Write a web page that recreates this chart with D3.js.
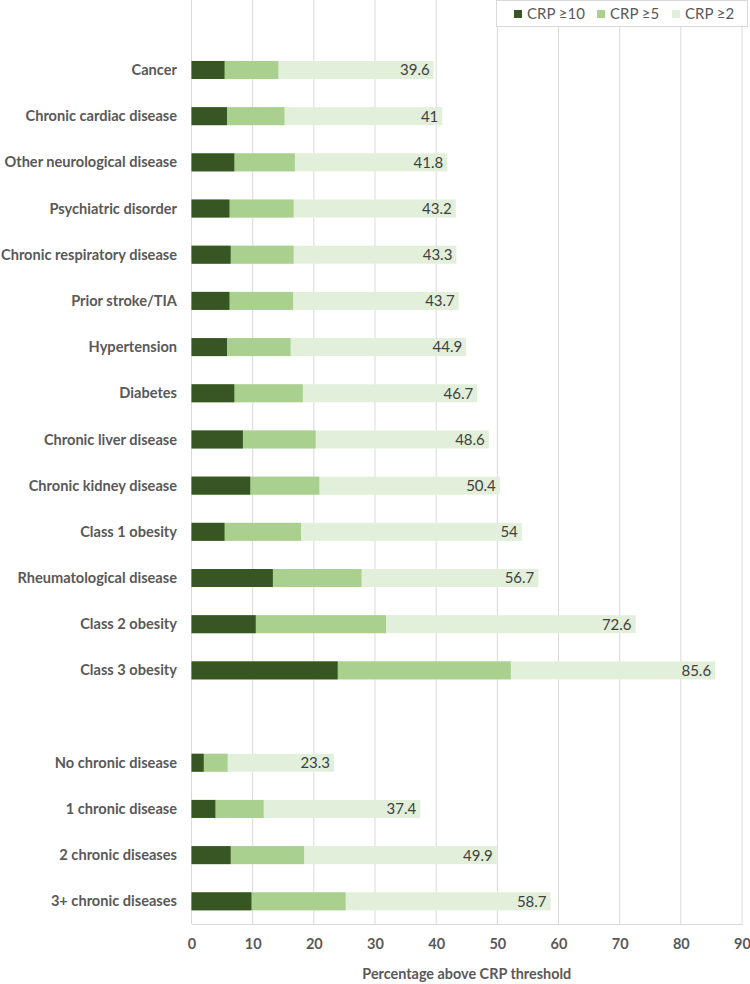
<!DOCTYPE html>
<html>
<head>
<meta charset="utf-8">
<script src="https://cdn.jsdelivr.net/npm/d3@7"></script>
<style>
  body { margin: 0; background: #fff; }
  svg { display: block; font-family: Lato, "Open Sans", sans-serif; }
</style>
</head>
<body>
<div id="chart"></div>
<script>
// categories, top to bottom (blank slots are spacers)
const categories = [
  'Cancer', 'Chronic cardiac disease', 'Other neurological disease', 'Psychiatric disorder',
  'Chronic respiratory disease', 'Prior stroke/TIA', 'Hypertension', 'Diabetes',
  'Chronic liver disease', 'Chronic kidney disease', 'Class 1 obesity',
  'Rheumatological disease', 'Class 2 obesity', 'Class 3 obesity',
  'No chronic disease', '1 chronic disease', '2 chronic diseases', '3+ chronic diseases'
];
const groupBreak = 14; // gap before 'No chronic disease'

// percentage above each CRP threshold
const crp10 = [5.4, 5.8, 7.0, 6.2, 6.4, 6.2, 5.8, 7.0, 8.4, 9.6, 5.4, 13.3, 10.5, 23.9, 2.0, 3.9, 6.4, 9.8];
const crp5  = [14.2, 15.2, 16.9, 16.7, 16.7, 16.6, 16.2, 18.2, 20.3, 20.9, 17.9, 27.8, 31.8, 52.2, 5.9, 11.8, 18.4, 25.2];
const crp2  = [39.6, 41, 41.8, 43.2, 43.3, 43.7, 44.9, 46.7, 48.6, 50.4, 54, 56.7, 72.6, 85.6, 23.3, 37.4, 49.9, 58.7];

const seriesNames = ['CRP \u226510', 'CRP \u22655', 'CRP \u22652'];
const xTicks = [0, 10, 20, 30, 40, 50, 60, 70, 80, 90];

const W = 750, H = 984;
const colors = { c10: '#375623', c5: '#a9d08e', c2: '#e2efda' };
const grid = '#d9d9d9';
const textGray = '#595959';

const slots = ['_top']
  .concat(categories.slice(0, groupBreak), ['_gap'], categories.slice(groupBreak));

const rows = categories.map((c, i) => ({ cat: c, v10: crp10[i], v5: crp5[i], v2: crp2[i] }));

const svg = d3.select('#chart').append('svg')
  .attr('width', W).attr('height', H);

const x = d3.scaleLinear().domain([0, 90]).range([191.5, 742]);
const y = d3.scaleBand().domain(slots).range([0.7, 924.4])
  .paddingInner(0.61).paddingOuter(0.305);
const yBase = 924;

// gridlines
svg.append('g')
  .attr('class', 'grid')
  .selectAll('line').data(xTicks).join('line')
  .attr('x1', d => x(d)).attr('x2', d => x(d))
  .attr('y1', 0).attr('y2', yBase)
  .attr('stroke', grid).attr('stroke-width', 1);

// x axis
const xAxis = svg.append('g')
  .attr('transform', `translate(0,${yBase})`)
  .call(d3.axisBottom(x).tickValues(xTicks).tickSize(0).tickPadding(15));
xAxis.select('.domain').attr('stroke', grid);
xAxis.selectAll('text')
  .attr('fill', textGray).attr('font-size', 14.5).attr('font-weight', 700)
  .style('font-family', 'Lato, sans-serif');

// bars: overlapping, widest first
const plot = svg.append('g').attr('class', 'plot');
const layers = [['v2', colors.c2], ['v5', colors.c5], ['v10', colors.c10]];
layers.forEach(([key, fill]) => {
  plot.append('g').selectAll('rect').data(rows).join('rect')
    .attr('x', x(0))
    .attr('y', d => y(d.cat))
    .attr('width', d => x(d[key]) - x(0))
    .attr('height', y.bandwidth())
    .attr('fill', fill);
});

// value labels at bar end
plot.append('g').selectAll('text').data(rows).join('text')
  .attr('x', d => x(d.v2) - 4)
  .attr('y', d => y(d.cat) + y.bandwidth() / 2)
  .attr('dy', '0.36em')
  .attr('text-anchor', 'end')
  .attr('font-size', 15)
  .attr('fill', '#404040')
  .text(d => d.v2);

// category labels
svg.append('g').selectAll('text').data(rows).join('text')
  .attr('x', 177)
  .attr('y', d => y(d.cat) + y.bandwidth() / 2)
  .attr('dy', '0.35em')
  .attr('text-anchor', 'end')
  .attr('font-size', 14.6)
  .attr('font-weight', 700)
  .attr('fill', textGray)
  .text(d => d.cat);

// axis title
svg.append('text')
  .attr('x', (x(0) + x(90)) / 2)
  .attr('y', 974)
  .attr('dy', '0.35em')
  .attr('text-anchor', 'middle')
  .attr('font-size', 14.4)
  .attr('font-weight', 700)
  .attr('fill', textGray)
  .text('Percentage above CRP threshold');

// legend
const legend = svg.append('g').attr('class', 'legend');
legend.append('rect')
  .attr('x', 496.5).attr('y', 0.5).attr('width', 251).attr('height', 26)
  .attr('fill', '#fff').attr('stroke', grid);
const legendItems = [
  { name: seriesNames[0], color: colors.c10, x: 514 },
  { name: seriesNames[1], color: colors.c5, x: 597 },
  { name: seriesNames[2], color: colors.c2, x: 672 }
];
const li = legend.selectAll('g.item').data(legendItems).join('g')
  .attr('class', 'item')
  .attr('transform', d => `translate(${d.x},14)`);
li.append('rect')
  .attr('x', 0).attr('y', -4).attr('width', 8).attr('height', 8)
  .attr('fill', d => d.color);
li.append('text')
  .attr('x', 13).attr('dy', '0.35em')
  .attr('font-size', 15).attr('fill', textGray)
  .text(d => d.name);
</script>
</body>
</html>
